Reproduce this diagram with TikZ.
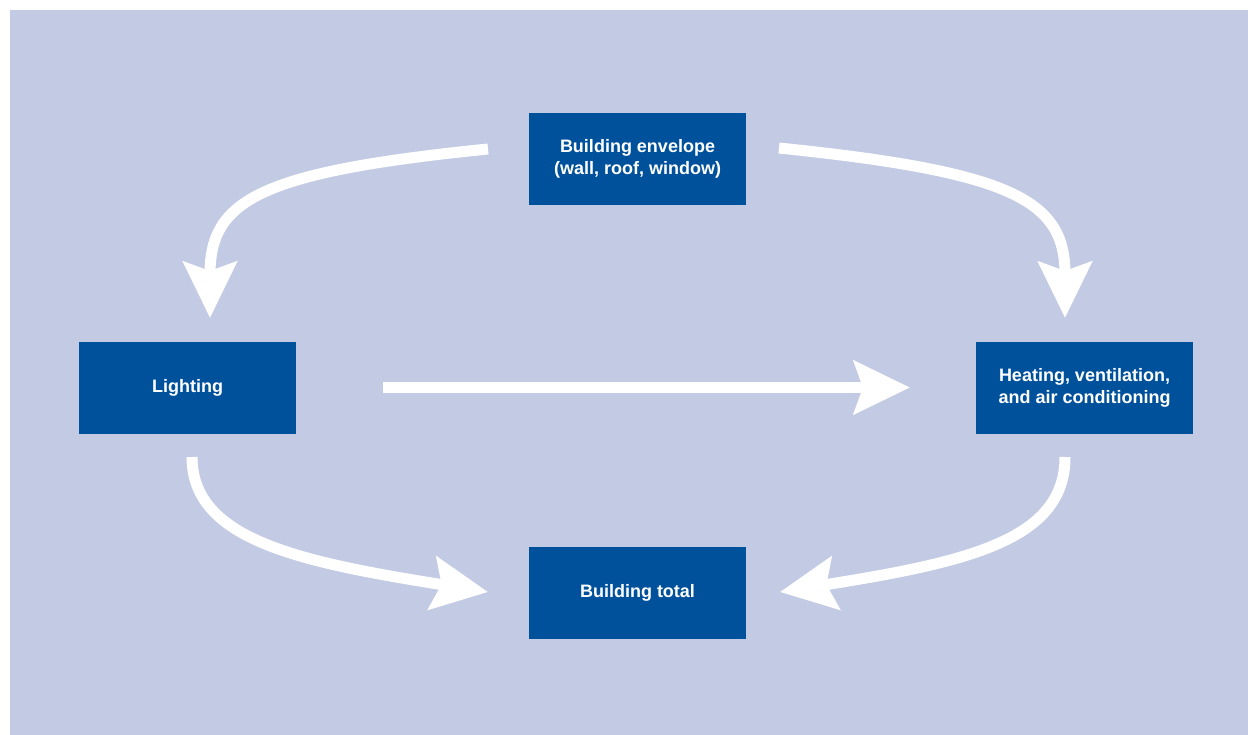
\documentclass[tikz,border=0pt]{standalone}
\usepackage{fontspec}
\setmainfont{Liberation Sans}
\usetikzlibrary{arrows.meta}
\definecolor{bgblue}{RGB}{195,203,228}
\definecolor{boxblue}{RGB}{0,81,155}
\tikzset{
  box/.style={fill=boxblue, text=white, minimum width=217pt, minimum height=92pt,
    inner sep=0pt, align=center, font=\fontsize{18}{22}\selectfont\bfseries},
  flow/.style={draw=white, line width=11pt,
    -{Stealth[length=56pt,width=53pt,inset=9pt]}}
}
\begin{document}
\begin{tikzpicture}[x=1pt,y=-1pt]
\useasboundingbox (0,0) rectangle (1248,735);
\fill[white] (0,0) rectangle (1248,735);
\fill[bgblue] (10,10) rectangle (1248,735);

\node[box] (env) at (637.5,159) {Building envelope\\(wall, roof, window)};
\node[box] (light) at (187.5,388) {Lighting};
\node[box] (hvac) at (1084.5,388) {Heating, ventilation,\\and air conditioning};
\node[box] (total) at (637.5,593) {Building total};

\coordinate (s1) at (488,149);
\coordinate (e1) at (210,318);
\coordinate (s2) at (779,148);
\coordinate (e2) at (1065,318);
\coordinate (s3) at (383,387.5);
\coordinate (e3) at (910,387.5);
\coordinate (s4) at (192,457);
\coordinate (e4) at (488,592);
\coordinate (s5) at (1065,457);
\coordinate (e5) at (780,592);

\draw[flow] (s1) .. controls (260,172) and (210,200) .. (e1);
\draw[flow] (s2) .. controls (1012,172) and (1065,200) .. (e2);
\draw[flow] (s3) -- (e3);
\draw[flow] (s4) .. controls (192,540) and (300,562) .. (e4);
\draw[flow] (s5) .. controls (1065,540) and (968,562) .. (e5);
\end{tikzpicture}
\end{document}
